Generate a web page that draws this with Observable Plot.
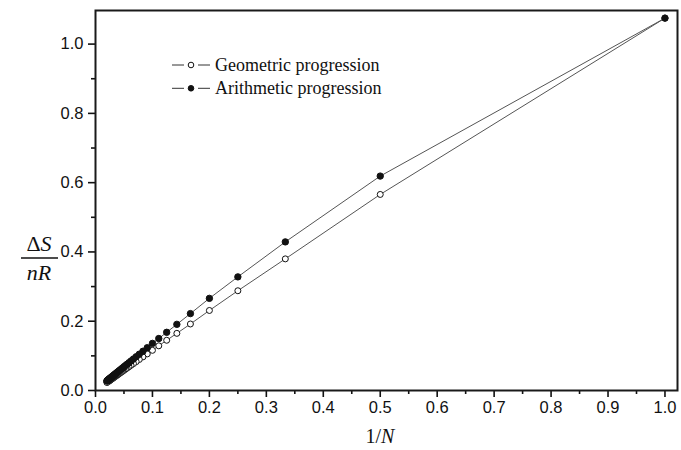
<!DOCTYPE html>
<html><head><meta charset="utf-8">
<script src="https://cdn.jsdelivr.net/npm/d3@7"></script>
<script src="https://cdn.jsdelivr.net/npm/@observablehq/plot@0.6"></script>
<style>body{margin:0;background:#fff}</style>
</head><body><div id="chart"></div>
<script>
// number of steps N (x axis shows 1/N)
const N = [1,2,3,4,5,6,7,8,9,10,11,12,13,14,15,16,17,18,19,20,21,22,23,24,25,26,27,28,29,30,31,32,33,34,35,36,37,38,39,40,41,42,43,44,45,46,47,48,49,50];
const geometric = [1.075,0.566,0.380,0.288,0.231,0.192,0.165,0.145,0.129,0.116,0.1057,0.0970,0.0896,0.0832,0.0777,0.0729,0.0686,0.0648,0.0614,0.0584,0.0556,0.0531,0.0508,0.0487,0.0467,0.0449,0.0433,0.0417,0.0403,0.0390,0.0377,0.0365,0.0354,0.0344,0.0334,0.0325,0.0316,0.0308,0.0300,0.0293,0.0285,0.0279,0.0272,0.0266,0.0260,0.0254,0.0249,0.0244,0.0239,0.0234];
const arithmetic = [1.075,0.619,0.429,0.328,0.266,0.222,0.191,0.168,0.150,0.136,0.1235,0.1133,0.1048,0.0974,0.0910,0.0854,0.0804,0.0760,0.0720,0.0685,0.0652,0.0623,0.0596,0.0572,0.0549,0.0528,0.0509,0.0490,0.0474,0.0458,0.0443,0.0430,0.0417,0.0404,0.0393,0.0382,0.0372,0.0362,0.0353,0.0344,0.0336,0.0328,0.0320,0.0313,0.0306,0.0299,0.0293,0.0287,0.0281,0.0276];
const seriesNames = ["Geometric progression","Arithmetic progression"];
const xTicks = [0,0.1,0.2,0.3,0.4,0.5,0.6,0.7,0.8,0.9,1.0];
const xMinor = [0.05,0.15,0.25,0.35,0.45,0.55,0.65,0.75,0.85,0.95];
const yTicks = [0,0.2,0.4,0.6,0.8,1.0];
const yMinor = [0.1,0.3,0.5,0.7,0.9];

const geo = N.map((n,i)=>({x:1/n, y:geometric[i], s:seriesNames[0]}));
const ari = N.map((n,i)=>({x:1/n, y:arithmetic[i], s:seriesNames[1]}));

const plot = Plot.plot({
  width:681, height:450,
  marginLeft:95, marginRight:4, marginTop:10, marginBottom:60,
  x:{domain:[0,1.022]},
  y:{domain:[0,1.097]},
  style:{fontFamily:"'Liberation Sans', Arial, sans-serif", fontSize:"16.5px", color:"#111", background:"#fff"},
  marks:[
    Plot.axisX(xTicks,{tickSize:7, tickPadding:4, tickFormat:d3.format(".1f"), label:null, strokeWidth:1.6}),
    Plot.axisX(xMinor,{tickSize:4, tickFormat:()=>"", label:null, strokeWidth:1.6}),
    Plot.axisY(yTicks,{tickSize:7, tickPadding:5, tickFormat:d3.format(".1f"), label:null, strokeWidth:1.6}),
    Plot.axisY(yMinor,{tickSize:4, tickFormat:()=>"", label:null, strokeWidth:1.6}),
    Plot.line(geo,{x:"x", y:"y", stroke:"#555", strokeWidth:1}),
    Plot.line(ari,{x:"x", y:"y", stroke:"#555", strokeWidth:1}),
    Plot.dot(geo,{x:"x", y:"y", r:3, fill:"white", stroke:"#111", strokeWidth:1}),
    Plot.dot(ari,{x:"x", y:"y", r:3.2, fill:"#111", stroke:"#111", strokeWidth:1}),
    Plot.frame({stroke:"#1a1a1a", strokeWidth:2})
  ]
});
document.getElementById("chart").appendChild(plot);

const svg = d3.select(plot);
const serif = "'Liberation Serif', 'Times New Roman', serif";
// legend
const leg = svg.append("g").attr("font-family", serif).attr("font-size", 18).attr("fill","#111").attr("text-anchor","start");
seriesNames.forEach((name,i)=>{
  const cy = 65 + i*23.3;
  leg.append("line").attr("x1",172).attr("x2",210).attr("y1",cy).attr("y2",cy)
    .attr("stroke","#333").attr("stroke-width",1).attr("stroke-dasharray","12 14 12");
  leg.append("circle").attr("cx",191).attr("cy",cy).attr("r",2.8).attr("fill", i===0?"white":"#111").attr("stroke","#111");
  leg.append("text").attr("x",215).attr("y",cy+5.5).text(name);
});
// x axis title
svg.append("text").attr("x",380).attr("y",443).attr("text-anchor","middle")
  .attr("font-family",serif).attr("font-size",20).attr("fill","#111")
  .html('1/<tspan font-style="italic">N</tspan>');
// y axis title as fraction
const yl = svg.append("g").attr("font-family",serif).attr("font-size",22).attr("fill","#111").attr("text-anchor","middle");
yl.append("text").attr("x",39).attr("y",251).html('Δ<tspan font-style="italic">S</tspan>');
yl.append("line").attr("x1",21).attr("x2",58).attr("y1",258).attr("y2",258).attr("stroke","#111").attr("stroke-width",1.3);
yl.append("text").attr("x",39).attr("y",280).html('<tspan font-style="italic">nR</tspan>');
</script>
</body></html>
